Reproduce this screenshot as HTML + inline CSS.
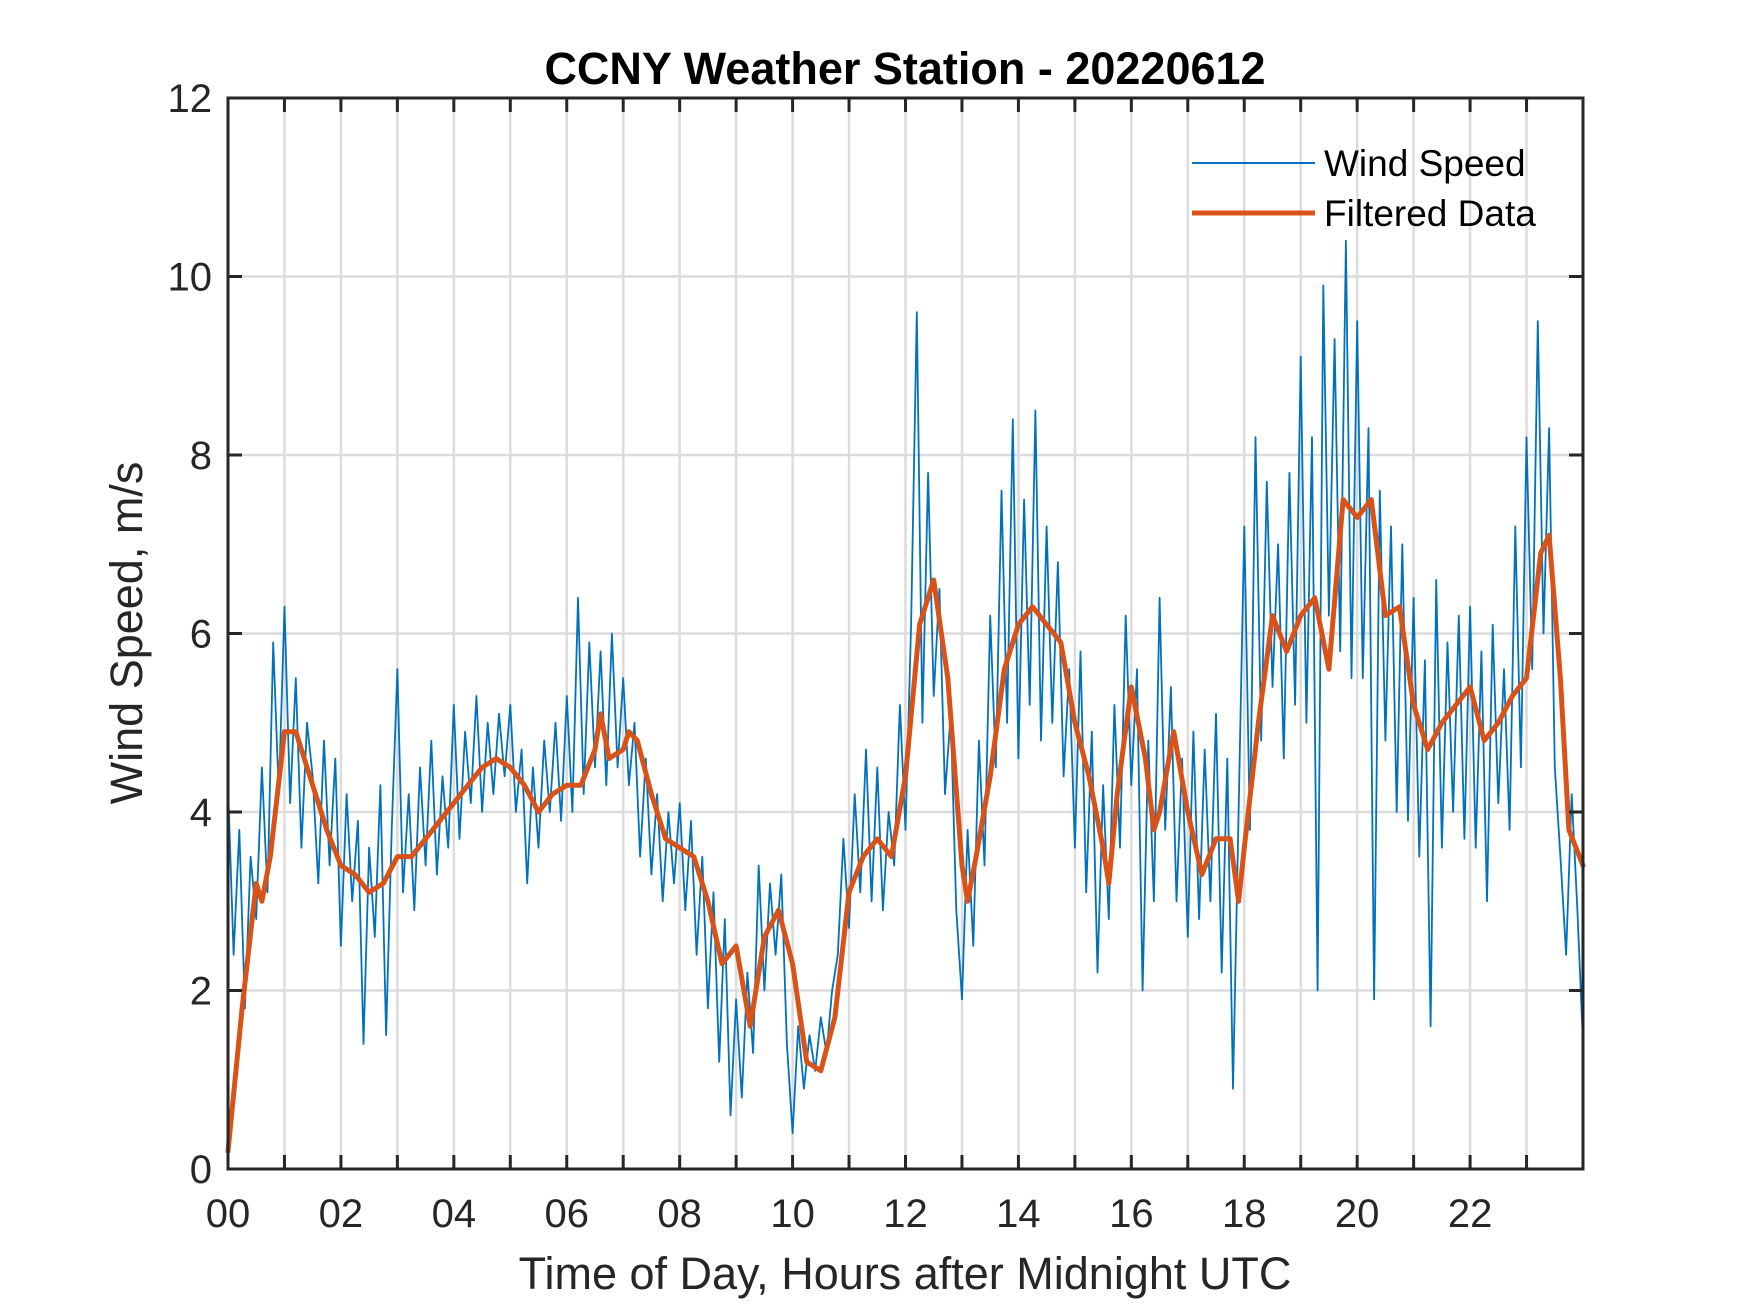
<!DOCTYPE html>
<html><head><meta charset="utf-8"><style>
html,body{margin:0;padding:0;background:#fff}
svg{display:block;font-family:"Liberation Sans",Arial,sans-serif}
</style></head><body>
<svg id="chart" width="1750" height="1313" viewBox="0 0 1750 1313" xmlns="http://www.w3.org/2000/svg">
<rect x="0" y="0" width="1750" height="1313" fill="#fff"/>
<g id="grid"></g>
<g id="series"></g>
<g id="axes"></g>
<text x="905" y="84" text-anchor="middle" font-size="45" font-weight="bold" fill="#000">CCNY Weather Station - 20220612</text>
<text x="905" y="1289" text-anchor="middle" font-size="45" fill="#262626">Time of Day, Hours after Midnight UTC</text>
<text transform="translate(142,633) rotate(-90)" text-anchor="middle" font-size="45" fill="#262626">Wind Speed, m/s</text>
<g>
<line x1="1192" y1="163" x2="1315" y2="163" stroke="#0072BD" stroke-width="2"/>
<text x="1324" y="176" font-size="37" fill="#000">Wind Speed</text>
<line x1="1192" y1="213" x2="1315" y2="213" stroke="#D95319" stroke-width="5"/>
<text x="1324" y="226" font-size="37" fill="#000">Filtered Data</text>
</g>
</svg>
<script>
const rawValues = [4.3,2.4,3.8,1.8,3.5,2.8,4.5,3.1,5.9,4.2,
6.3,4.1,5.5,3.6,5.0,4.4,3.2,4.8,3.4,4.6,
2.5,4.2,3.0,3.9,1.4,3.6,2.6,4.3,1.5,3.8,
5.6,3.1,4.2,2.9,4.5,3.4,4.8,3.3,4.4,3.6,
5.2,3.7,4.9,4.1,5.3,4.0,5.0,4.2,5.1,4.4,
5.2,4.0,4.7,3.2,4.5,3.6,4.8,4.0,5.0,3.9,
5.3,4.0,6.4,4.2,5.9,4.5,5.8,4.3,6.0,4.5,
5.5,4.3,5.0,3.5,4.6,3.3,4.2,3.0,4.0,3.2,
4.1,2.9,3.9,2.4,3.5,1.8,3.1,1.2,2.8,0.6,
1.9,0.8,2.2,1.3,3.4,2.0,3.2,2.4,3.3,1.4,
0.4,1.6,0.9,1.5,1.1,1.7,1.3,2.0,2.4,3.7,
2.7,4.2,3.1,4.7,3.0,4.5,2.9,4.0,3.4,5.2,
3.8,6.1,9.6,5.0,7.8,5.3,6.5,4.2,5.1,2.9,
1.9,3.8,2.5,4.8,3.4,6.2,4.5,7.6,5.0,8.4,
4.6,7.5,5.2,8.5,4.8,7.2,5.0,6.8,4.4,5.6,
3.6,5.8,3.1,4.9,2.2,4.3,2.8,5.2,3.6,6.2,
4.3,5.6,2.0,4.8,3.0,6.4,3.8,5.4,3.0,4.6,
2.6,4.9,2.8,4.7,3.0,5.1,2.2,4.6,0.9,4.0,
7.2,3.8,8.2,4.8,7.7,5.4,7.0,4.6,7.8,5.2,
9.1,5.0,8.2,2.0,9.9,6.2,9.3,5.8,10.4,5.5,
9.5,5.5,8.3,1.9,7.6,4.8,7.2,4.0,7.0,3.9,
6.4,3.5,5.7,1.6,6.6,3.6,5.9,4.0,6.2,3.7,
6.3,3.6,5.8,3.0,6.1,4.1,5.6,3.8,7.2,4.5,
8.2,5.6,9.5,6.0,8.3,4.5,3.5,2.4,4.2,2.9,1.4];
const rawStepHours = 0.1;
const filtHours = [0,0.25,0.5,0.6,0.75,1.0,1.2,1.5,1.75,2,2.25,2.5,2.75,3,3.25,3.5,3.75,4,4.25,4.5,4.75,5,5.25,5.5,5.75,6,6.25,6.5,6.6,6.75,7,7.1,7.25,7.5,7.75,8,8.25,8.5,8.75,9,9.25,9.5,9.75,10,10.25,10.5,10.75,11,11.25,11.5,11.75,12,12.25,12.5,12.75,13,13.1,13.25,13.5,13.75,14,14.25,14.5,14.75,15,15.25,15.5,15.6,15.75,16,16.25,16.4,16.5,16.75,17,17.25,17.5,17.75,17.9,18,18.25,18.5,18.75,19,19.25,19.5,19.75,20,20.25,20.5,20.75,21,21.25,21.5,21.75,22,22.25,22.5,22.75,23,23.25,23.4,23.6,23.75,24];
const filtValues = [0.2,1.8,3.2,3.0,3.5,4.9,4.9,4.3,3.8,3.4,3.3,3.1,3.2,3.5,3.5,3.7,3.9,4.1,4.3,4.5,4.6,4.5,4.3,4.0,4.2,4.3,4.3,4.7,5.1,4.6,4.7,4.9,4.8,4.2,3.7,3.6,3.5,3.0,2.3,2.5,1.6,2.6,2.9,2.3,1.2,1.1,1.7,3.1,3.5,3.7,3.5,4.4,6.1,6.6,5.5,3.4,3.0,3.5,4.4,5.6,6.1,6.3,6.1,5.9,5.0,4.4,3.6,3.2,4.2,5.4,4.6,3.8,4.0,4.9,4.0,3.3,3.7,3.7,3.0,3.6,5.0,6.2,5.8,6.2,6.4,5.6,7.5,7.3,7.5,6.2,6.3,5.2,4.7,5.0,5.2,5.4,4.8,5.0,5.3,5.5,6.9,7.1,5.5,3.8,3.4];
const xTickLabels = ["00","02","04","06","08","10","12","14","16","18","20","22"];
const yTickLabels = ["0","2","4","6","8","10","12"];

const L=228,R=1583,T=98,B=1169,X0=0,X1=24,Y0=0,Y1=12;
const xs=h=>L+(h-X0)/(X1-X0)*(R-L);
const ys=v=>B-(v-Y0)/(Y1-Y0)*(B-T);
const NS="http://www.w3.org/2000/svg";
function mk(tag,attrs,parent){const e=document.createElementNS(NS,tag);for(const k in attrs)e.setAttribute(k,attrs[k]);parent.appendChild(e);return e;}
const grid=document.getElementById('grid'),series=document.getElementById('series'),axes=document.getElementById('axes');

for(let h=1;h<24;h++){const l=mk('line',{x1:xs(h),x2:xs(h),y1:T,y2:B,stroke:'#dcdcdc','stroke-width':2.5},grid);

}
for(let i=1;i<yTickLabels.length-1;i++){const v=+yTickLabels[i];const l=mk('line',{x1:L,x2:R,y1:ys(v),y2:ys(v),stroke:'#dcdcdc','stroke-width':2.5},grid);

}

let d='';rawValues.forEach((v,i)=>{d+=(i?'L':'M')+xs(i*rawStepHours).toFixed(1)+','+ys(v).toFixed(1);});
const raw=mk('path',{d:d,fill:'none',stroke:'#0072BD','stroke-width':1.8,'stroke-linejoin':'round'},series);


let d2='';filtValues.forEach((v,i)=>{d2+=(i?'L':'M')+xs(filtHours[i]).toFixed(1)+','+ys(v).toFixed(1);});
const fl=mk('path',{d:d2,fill:'none',stroke:'#D95319','stroke-width':5,'stroke-linejoin':'round','stroke-linecap':'round'},series);



const box=mk('rect',{x:L,y:T,width:R-L,height:B-T,fill:'none',stroke:'#262626','stroke-width':3},axes);


for(let h=1;h<24;h++){
 const a=mk('line',{x1:xs(h),x2:xs(h),y1:B,y2:B-14,stroke:'#262626','stroke-width':3},axes);
 
 
 const b=mk('line',{x1:xs(h),x2:xs(h),y1:T,y2:T+14,stroke:'#262626','stroke-width':3},axes);
 
 
}
xTickLabels.forEach(s=>{const t=mk('text',{x:xs(+s),y:B+58,'text-anchor':'middle','font-size':40,fill:'#262626'},axes);t.textContent=s;

});
yTickLabels.forEach(s=>{const v=+s;
 const a=mk('line',{x1:L,x2:L+14,y1:ys(v),y2:ys(v),stroke:'#262626','stroke-width':3},axes);
 
 
 const b=mk('line',{x1:R,x2:R-14,y1:ys(v),y2:ys(v),stroke:'#262626','stroke-width':3},axes);
 
 
 const t=mk('text',{x:L-16,y:ys(v)+14,'text-anchor':'end','font-size':40,fill:'#262626'},axes);t.textContent=s;
 
 });
</script>
</body></html>
